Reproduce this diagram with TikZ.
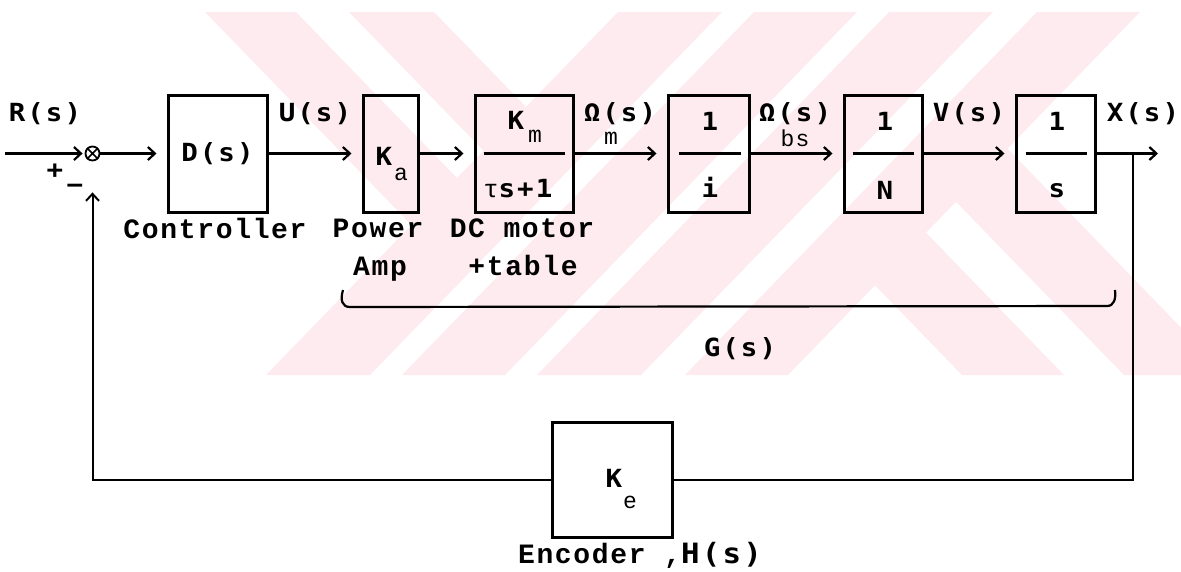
\documentclass[tikz,border=0pt]{standalone}
\usepackage{fontspec}
\usetikzlibrary{arrows.meta}
\newfontfamily\labfont{DejaVu Sans Mono}[LetterSpace=8,FakeStretch=1.1]
\newfontfamily\typfont{Liberation Mono}[LetterSpace=6]
\definecolor{wm}{RGB}{253,235,239}
\begin{document}
\begin{tikzpicture}[x=1pt,y=-1pt,
  blk/.style={draw,line width=3pt,inner sep=0pt},
  lab/.style={font=\labfont\bfseries\fontsize{25}{28}\selectfont,inner sep=0pt},
  sub/.style={font=\typfont\fontsize{23}{26}\selectfont,inner sep=0pt},
  captext/.style={font=\typfont\bfseries\fontsize{28}{30}\selectfont,inner sep=0pt},
  sig/.style={line width=2.2pt,-{Straight Barb[length=7pt,width=13pt]},shorten >=10pt},
  fb/.style={line width=2pt},
  frac/.style={line width=2.2pt}]
\useasboundingbox (0,0) rectangle (1181,571);
% watermark
\begin{scope}
\clip (0,12) rectangle (1181,375);
\foreach \a/\b in {618/722,754/857,889/993,1037/1140}
  \fill[wm] (\a,12) -- (\b,12) -- ({\b-352},375) -- ({\a-352},375) -- cycle;
\begin{scope}
\clip (0,12) -- (619,12) -- (267,375) -- (0,375) -- cycle;
\foreach \a/\b in {205/296,349/434}
  \fill[wm] (\a,12) -- (\b,12) -- ({\b+352},375) -- ({\a+352},375) -- cycle;
\end{scope}
\begin{scope}
\clip (1139,12) -- (1181,12) -- (1181,375) -- (787,375) -- cycle;
\foreach \a/\b in {962/1064,1124/1227}
  \fill[wm] (\a,375) -- (\b,375) -- ({\b-352},12) -- ({\a-352},12) -- cycle;
\end{scope}
\end{scope}
% blocks
\node[blk,lab,minimum width=99,minimum height=117] (D) at (217.5,153.5) {D(s)};
\node[blk,minimum width=55,minimum height=117] (Ka) at (390.5,153.5) {};
\node[lab] (KaK) at (384,156) {K};
\node[sub] (Kaa) at (401,174) {a};
\node[blk,minimum width=98,minimum height=117] (Km) at (524,153.5) {};
\draw[frac] ([xshift=10]Km.west) -- ([xshift=-10]Km.east);
\node[lab] (KmK) at (516,120) {K};
\node[sub] (Kmm) at (535,136) {m};
\node[lab] (KmD) at (518,189) {{\typfont\mdseries τ}s+1};
\node[blk,minimum width=81,minimum height=117] (Gi) at (708.5,153.5) {};
\draw[frac] ([xshift=12]Gi.west) -- ([xshift=-10]Gi.east);
\node[lab] (Gi1) at (710,121) {1};
\node[lab] (Gii) at (710,187) {i};
\node[blk,minimum width=78,minimum height=117] (Gn) at (883,153.5) {};
\draw[frac] ([xshift=10]Gn.west) -- ([xshift=-10]Gn.east);
\node[lab] (Gn1) at (885,121) {1};
\node[lab] (GnN) at (885,190) {N};
\node[blk,minimum width=79,minimum height=117] (Gs) at (1055.5,153.5) {};
\draw[frac] ([xshift=11]Gs.west) -- ([xshift=-10]Gs.east);
\node[lab] (Gs1) at (1057,121) {1};
\node[lab] (Gss) at (1057,191) {s};
\node[blk,minimum width=120,minimum height=115] (Ke) at (612,479.5) {};
\node[lab] (KeK) at (614,478) {K};
\node[sub] (Kee) at (630,502) {e};
% signal labels
\node[lab,anchor=base] (Rl) at (45,121) {R(s)};
\node[lab,anchor=base] (Ul) at (315,121) {U(s)};
\node[lab,anchor=base] (Wm) at (620,121) {Ω(s)};
\node[sub] (Wms) at (611,138) {m};
\node[lab,anchor=base] (Wb) at (795,121) {Ω(s)};
\node[sub] (Wbs) at (795,138) {bs};
\node[lab,anchor=base] (Vl) at (969,121) {V(s)};
\node[lab,anchor=base] (Xl) at (1143,121) {X(s)};
\node[lab] (plus) at (55,171) {+};
\node[lab] (minus) at (75,189) {−};
% summing junction
\coordinate (in) at (5,153.5);
\node[draw,circle,line width=1.8pt,minimum size=14,inner sep=0pt] (sum) at (92.5,153.5) {};
\draw[line width=1.5pt] (sum.north west) -- (sum.south east) (sum.north east) -- (sum.south west);
% forward path
\draw[sig,shorten >=2pt] (in) -- (sum);
\draw[sig] (sum) -- (D);
\draw[sig] (D) -- (Ka);
\draw[sig] (Ka) -- (Km);
\draw[sig] (Km) -- (Gi);
\draw[sig] (Gi) -- (Gn);
\draw[sig] (Gn) -- (Gs);
\coordinate (br) at (1133,153.5);
\coordinate (out) at (1158,153.5);
\draw[sig,shorten >=0pt] (Gs) -- (out);
% feedback
\draw[fb] (br) |- (Ke);
\draw[fb,-{Straight Barb[length=7pt,width=13pt]},shorten >=31pt] (Ke) -| (sum);
% captions
\node[captext,anchor=base] (ctrl) at (215,238) {Controller};
\node[captext,anchor=base] (pw) at (378,237) {Power};
\node[captext,anchor=base] (dcm) at (522,237) {DC motor};
\node[captext,anchor=base] (amp) at (380,275) {Amp};
\node[captext,anchor=base] (tbl) at (523,275) {+table};
\node[captext,anchor=base] (enc) at (640,563) {Encoder ,{\labfont H(s)}};
\node[lab] (G) at (740,349) {G(s)};
% brace
\draw[line width=2.2pt] (343,290) .. controls (340,300) and (342,307) .. (350,307) -- (1107,306) .. controls (1114,306) and (1116,299) .. (1115,290);
\end{tikzpicture}
\end{document}
